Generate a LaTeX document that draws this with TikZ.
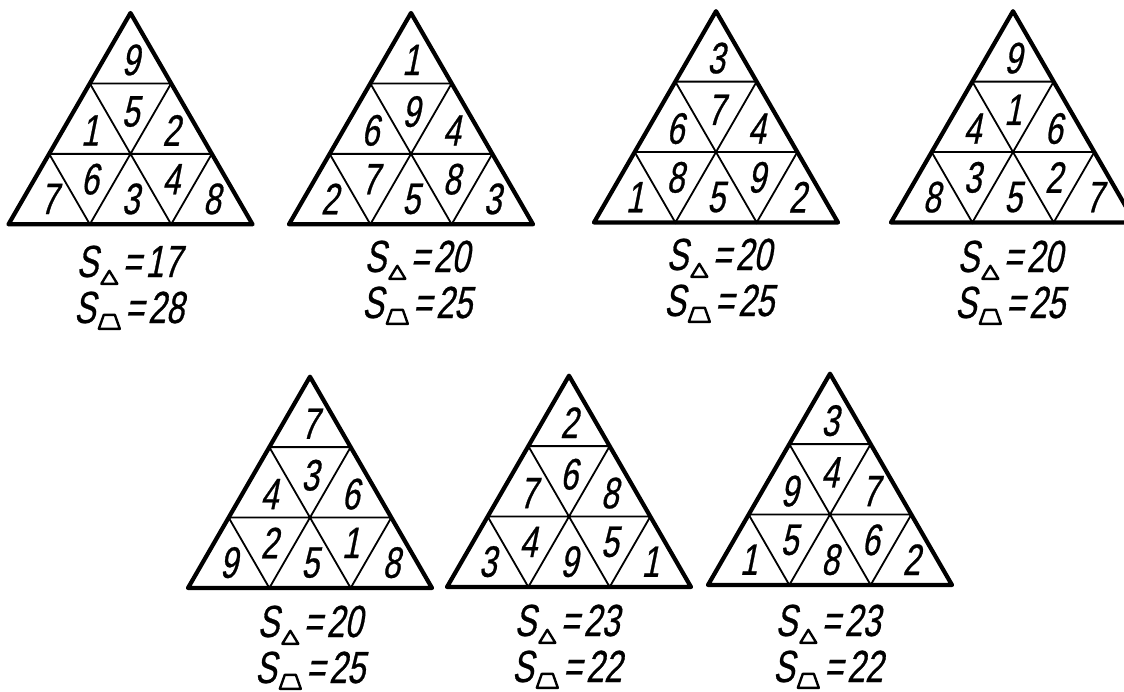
\documentclass[tikz,border=0pt]{standalone}
\usepackage{fontspec}
\newfontfamily\hand{Liberation Sans}[FakeSlant=0.2,FakeStretch=0.72,FakeBold=0.6]
\tikzset{
  rim/.style={line width=4.2pt,line join=round,line cap=round},
  grid/.style={line width=1.8pt,line cap=round},
  num/.style={font=\hand\fontsize{44}{44}\selectfont,inner sep=0pt},
  sumlabel/.style={font=\hand\fontsize{45}{48}\selectfont,inner sep=0pt,anchor=base},
}
\def\ulist{{1.5,1,1.5,2,0.5,1,1.5,2,2.5}}
\def\vlist{{2.333,1.333,1.6,1.333,0.36,0.64,0.36,0.64,0.36}}
\newcommand\subtri{\raisebox{-8pt}{\tikz[x=1pt,y=1pt,line width=2.4pt,line join=round]\draw (0,0)--(16,0)--(8,13)--cycle;}}
\newcommand\subtrap{\raisebox{-7pt}{\tikz[x=1pt,y=1pt,line width=2.4pt,line join=round]\draw (0,0)--(21,0)--(16,14)--(5,14)--cycle;}}
\newcommand\numtri[4]{%
  \begin{scope}[shift={(#2,#3)},x=81.33pt,y=70.44pt]
    \coordinate (#1-A) at (1.5,3);
    \coordinate (#1-L) at (0,0);
    \coordinate (#1-R) at (3,0);
    \draw[grid] (1,2) -- (2,2) (0.5,1) -- (2.5,1)
      (1,2) -- (1.5,1) -- (2,2)
      (0.5,1) -- (1,0) -- (1.5,1) -- (2,0) -- (2.5,1);
    \draw[rim] (#1-L) -- (#1-R) -- (#1-A) -- cycle;
    \foreach \d [count=\i from 0] in {#4} {
      \pgfmathsetmacro\uu{\ulist[\i]}
      \pgfmathsetmacro\vv{\vlist[\i]}
      \node[num] (#1-n\i) at (\uu,\vv) {\d};
    }
  \end{scope}}
\newcommand\sums[5]{%
  \node[sumlabel] (#1-s1) at (#2,#3) {S\hspace{2pt}\subtri\hspace{4pt}=\hspace{4pt}#4};
  \node[sumlabel] (#1-s2) at (#2,#3+46) {S\hspace{2pt}\subtrap\hspace{4pt}=\hspace{4pt}#5};}
\begin{document}
\begin{tikzpicture}[x=1pt,y=-1pt]
  \useasboundingbox (0,0) rectangle (1124,691);
  \numtri{t1}{8.5}{224.3}{9,1,5,2,7,6,3,4,8}
  \numtri{t2}{289}{224.3}{1,6,9,4,2,7,5,8,3}
  \numtri{t3}{594}{222.5}{3,6,7,4,1,8,5,9,2}
  \numtri{t4}{891}{222.5}{9,4,1,6,8,3,5,2,7}
  \numtri{t5}{188}{588}{7,4,3,6,9,2,5,1,8}
  \numtri{t6}{447}{587}{2,7,6,8,3,4,9,5,1}
  \numtri{t7}{708}{585}{3,9,4,7,1,5,8,6,2}
  \sums{t1}{129}{277}{17}{28}
  \sums{t2}{417}{272}{20}{25}
  \sums{t3}{719}{270}{20}{25}
  \sums{t4}{1010}{272}{20}{25}
  \sums{t5}{310}{637}{20}{25}
  \sums{t6}{567}{636}{23}{22}
  \sums{t7}{828}{636}{23}{22}
\end{tikzpicture}
\end{document}
